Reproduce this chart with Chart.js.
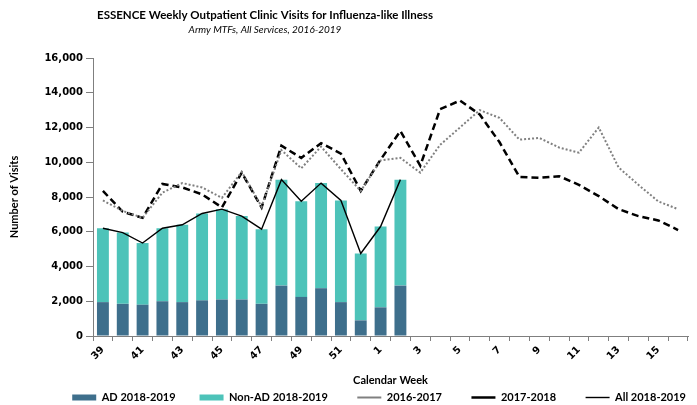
<!DOCTYPE html>
<html>
<head>
<meta charset="utf-8">
<script src="https://cdn.jsdelivr.net/npm/chart.js@4.4.1/dist/chart.umd.min.js"></script>
<style>
html, body { margin: 0; padding: 0; background: #fff; }
</style>
</head>
<body>
<canvas id="myChart" width="697" height="405"></canvas>
<script>
/* data */
var weeks = ['39', '40', '41', '42', '43', '44', '45', '46', '47', '48', '49', '50', '51', '52',
    '1', '2', '3', '4', '5', '6', '7', '8', '9', '10', '11', '12', '13', '14', '15', '16'];
var adVisits = [1950, 1850, 1800, 2000, 1950, 2050, 2100, 2100, 1850, 2900, 2250, 2750, 1950, 900, 1650, 2900];
var nonAdVisits = [4250, 4100, 3550, 4200, 4450, 5000, 5200, 4800, 4300, 6100, 5500, 6050, 5850, 3850, 4650, 6100];
var all1819 = [6200, 5950, 5350, 6200, 6400, 7050, 7300, 6900, 6150, 9000, 7750, 8800, 7800, 4750, 6300, 9000];
var season1617 = [7800, 7200, 6800, 8250, 8800, 8550, 7950, 9450, 7450, 10700, 9650, 10900, 9600, 8350, 10100,
    10250, 9400, 11000, 12000, 13000, 12550, 11300, 11400, 10850, 10550, 12000, 9700, 8700, 7750, 7300];
var season1718 = [8350, 7150, 6800, 8750, 8550, 8150, 7400, 9400, 7400, 10950, 10250, 11100, 10500, 8350, 10150,
    11800, 9800, 13050, 13550, 12750, 11150, 9150, 9100, 9200, 8700, 8050, 7300, 6900, 6650, 6100];
var yTicks = [0, 2000, 4000, 6000, 8000, 10000, 12000, 14000, 16000];

var titleText = 'ESSENCE Weekly Outpatient Clinic Visits for Influenza-like Illness';
var subtitleText = 'Army MTFs, All Services, 2016-2019';

// extra gap after each legend entry (en spaces)
var legendGaps = [4, 5, 5, 5, 0];

var tickFont = { family: 'DejaVu Sans', weight: 'bold', size: 10 };
var labelFont = { family: 'Lato', weight: 'bold', size: 11 };

/* titles drawn left of centre like the original */
var titlePlugin = {
    id: 'titleLines',
    afterDraw: function (chart) {
        var ctx = chart.ctx;
        ctx.save();
        ctx.fillStyle = '#000';
        ctx.textAlign = 'center';
        ctx.textBaseline = 'middle';
        ctx.font = 'bold 11.5px Lato';
        ctx.fillText(titleText, 265, 15);
        ctx.font = 'italic 10px Lato';
        ctx.fillText(subtitleText, 265, 30);
        ctx.restore();
    }
};

var ctx = document.getElementById('myChart').getContext('2d');
var myChart = new Chart(ctx, {
    type: 'bar',
    data: {
        labels: weeks,
        datasets: [{
            label: 'AD 2018-2019',
            data: adVisits,
            backgroundColor: 'rgb(62, 111, 140)',
            stack: 'bars',
            order: 2,
            pointStyle: 'rect'
        }, {
            label: 'Non-AD 2018-2019',
            data: nonAdVisits,
            backgroundColor: 'rgb(77, 195, 185)',
            stack: 'bars',
            order: 2,
            pointStyle: 'rect'
        }, {
            type: 'line',
            label: '2016-2017',
            data: season1617,
            borderColor: 'rgb(128, 128, 128)',
            backgroundColor: 'rgb(128, 128, 128)',
            borderWidth: 2,
            borderDash: [2, 2],
            pointRadius: 0,
            pointStyle: 'line',
            fill: false,
            stack: 's1617',
            order: 1
        }, {
            type: 'line',
            label: '2017-2018',
            data: season1718,
            borderColor: '#000',
            backgroundColor: '#000',
            borderWidth: 2.5,
            borderDash: [7, 4],
            pointRadius: 0,
            pointStyle: 'line',
            fill: false,
            stack: 's1718',
            order: 1
        }, {
            type: 'line',
            label: 'All 2018-2019',
            data: all1819,
            borderColor: '#000',
            backgroundColor: '#000',
            borderWidth: 1.4,
            pointRadius: 0,
            pointStyle: 'line',
            fill: false,
            stack: 'all',
            order: 1
        }]
    },
    options: {
        responsive: false,
        animation: false,
        datasets: {
            bar: { categoryPercentage: 1, barPercentage: 0.6 }
        },
        layout: { padding: { top: 58, right: 9, bottom: -8, left: 0 } },
        plugins: {
            title: { display: false },
            tooltip: { enabled: false },
            legend: {
                position: 'bottom',
                align: 'end',
                labels: {
                    usePointStyle: true,
                    pointStyleWidth: 24,
                    boxHeight: 6,
                    padding: 2,
                    color: '#000',
                    font: labelFont,
                    sort: function (a, b) { return a.datasetIndex - b.datasetIndex; },
                    generateLabels: function (chart) {
                        var items = Chart.defaults.plugins.legend.labels.generateLabels(chart);
                        items.forEach(function (it) {
                            it.text = it.text + '\u2002'.repeat(legendGaps[it.datasetIndex]);
                        });
                        return items;
                    }
                }
            }
        },
        scales: {
            x: {
                stacked: true,
                grid: { display: true, drawOnChartArea: false, tickLength: 5, color: '#7f7f7f' },
                border: { color: '#7f7f7f' },
                ticks: {
                    autoSkip: false,
                    maxRotation: 45,
                    minRotation: 45,
                    padding: 3,
                    color: '#000',
                    font: tickFont,
                    callback: function (v, i) { return i % 2 === 0 ? this.getLabelForValue(v) : ''; }
                },
                title: { display: true, text: 'Calendar Week', color: '#000', font: labelFont, padding: { top: 4, bottom: 3 } },
                afterFit: function (s) { s.height = 54; }
            },
            y: {
                stacked: true,
                min: 0,
                max: 16000,
                afterBuildTicks: function (s) { s.ticks = yTicks.map(function (v) { return { value: v }; }); },
                grid: { display: true, drawOnChartArea: false, tickLength: 7, color: '#7f7f7f' },
                border: { color: '#7f7f7f' },
                ticks: { padding: 3, color: '#000', font: tickFont },
                title: { display: true, text: 'Number of Visits', color: '#000', font: labelFont, padding: { top: 8, bottom: 0 } },
                afterFit: function (s) { s.width = 93; }
            }
        }
    },
    plugins: [titlePlugin]
});
</script>
</body>
</html>
